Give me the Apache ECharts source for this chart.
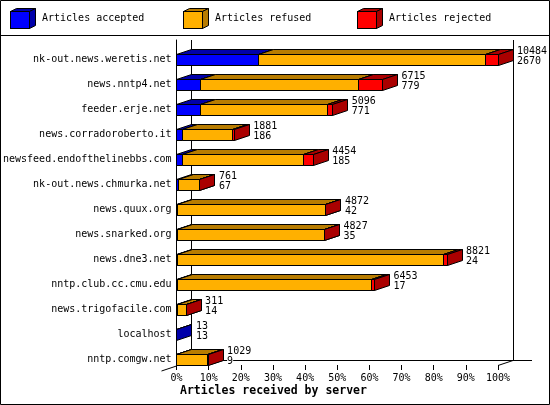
<!DOCTYPE html>
<html>
<head>
<meta charset="utf-8">
<script src="https://cdn.jsdelivr.net/npm/echarts@6/dist/echarts.min.js"></script>
<style>html,body{margin:0;padding:0;background:#fff;}#c{width:550px;height:405px;}</style>
</head>
<body>
<div id="c"></div>
<script>
// ---- data ----
const categories = [
  'nk-out.news.weretis.net', 'news.nntp4.net', 'feeder.erje.net', 'news.corradoroberto.it',
  'newsfeed.endofthelinebbs.com', 'nk-out.news.chmurka.net', 'news.quux.org', 'news.snarked.org',
  'news.dne3.net', 'nntp.club.cc.cmu.edu', 'news.trigofacile.com', 'localhost', 'nntp.comgw.net'
];
const totalArticles = [10484, 6715, 5096, 1881, 4454, 761, 4872, 4827, 8821, 6453, 311, 13, 1029];
const acceptedArticles = [2670, 779, 771, 186, 185, 67, 42, 35, 24, 17, 14, 13, 9];
const refusedArticles = [7414, 5166, 4165, 1635, 3969, 689, 4825, 4787, 8667, 6356, 294, 0, 1015];
const rejectedArticles = [400, 770, 160, 60, 300, 5, 5, 5, 130, 80, 3, 0, 5];
const seriesNames = ['Articles accepted', 'Articles refused', 'Articles rejected'];
const xTickLabels = ['0%', '10%', '20%', '30%', '40%', '50%', '60%', '70%', '80%', '90%', '100%'];

// ---- styling / layout ----
const FONT = '"DejaVu Sans Mono", "Liberation Mono", monospace';
const FRONT = ['#0000FF', '#FFB000', '#FF0000'];
const DARK = ['#0000AA', '#B87C00', '#AA0000'];
const DX = 15, DY = 5, BAR_H = 11;
const GL = 176.5, GR = 498, GT = 40, GB = 365, W = 550, H = 405;

const maxTotal = Math.max.apply(null, totalArticles);
const pct = v => v / maxTotal * 100;

function segData(k) {
  return categories.map((c, i) => {
    const parts = [acceptedArticles[i], refusedArticles[i], rejectedArticles[i]];
    let start = 0;
    for (let j = 0; j < k; j++) start += parts[j];
    return [pct(start), pct(start + parts[k]), i, parts[k]];
  });
}

const r5 = v => Math.round(v - 0.5) + 0.5;

function makeRender(k) {
  return function (params, api) {
    if (api.value(3) <= 0) return null;
    const cat = api.value(2);
    const p0 = api.coord([api.value(0), cat]);
    const p1 = api.coord([api.value(1), cat]);
    const band = api.size([0, 1])[1];
    const bottom = r5(p0[1] + band / 2);
    const top = bottom - BAR_H;
    const x0 = r5(p0[0]);
    const x1 = Math.max(r5(p1[0]), x0);
    const st = (fill) => ({ fill: fill, stroke: '#000', lineWidth: 1 });
    return {
      type: 'group',
      children: [
        { type: 'rect', shape: { x: x0, y: top, width: x1 - x0, height: BAR_H }, style: st(FRONT[k]) },
        { type: 'polygon', shape: { points: [[x0, top], [x0 + DX, top - DY], [x1 + DX, top - DY], [x1, top]] }, style: st(DARK[k]) },
        { type: 'polygon', shape: { points: [[x1, top], [x1 + DX, top - DY], [x1 + DX, top - DY + BAR_H], [x1, top + BAR_H]] }, style: st(DARK[k]) }
      ]
    };
  };
}

function labelRender(params, api) {
  const cat = api.value(1);
  const p = api.coord([api.value(0), cat]);
  const band = api.size([0, 1])[1];
  const bottom = r5(p[1] + band / 2);
  const top = bottom - BAR_H;
  const x = p[0] + DX + 4;
  const ts = (t, y) => ({ type: 'text', style: { text: t, x: x, y: y, fill: '#000', fontSize: 10, fontFamily: FONT, verticalAlign: 'middle', align: 'left', backgroundColor: '#fff' } });
  return { type: 'group', children: [ts(String(api.value(2)), top - 3.5), ts(String(api.value(3)), top + 6.5)] };
}

function cubeIcon(k) {
  const svg = '<svg xmlns="http://www.w3.org/2000/svg" width="27" height="21">' +
    '<rect x="0.5" y="3.5" width="19" height="17" fill="' + FRONT[k] + '" stroke="#000"/>' +
    '<polygon points="0.5,3.5 6.5,0.5 25.5,0.5 19.5,3.5" fill="' + DARK[k] + '" stroke="#000"/>' +
    '<polygon points="19.5,3.5 25.5,0.5 25.5,17.5 19.5,20.5" fill="' + DARK[k] + '" stroke="#000"/>' +
    '</svg>';
  return 'image://data:image/svg+xml;charset=utf-8,' + encodeURIComponent(svg);
}

const legendLeft = [10, 183, 357];
const legends = seriesNames.map((n, k) => ({
  data: [{ name: n, icon: cubeIcon(k) }],
  left: legendLeft[k], top: 8, padding: 0,
  itemWidth: 27, itemHeight: 21, itemGap: 0,
  selectedMode: false,
  textStyle: { fontFamily: FONT, fontSize: 10, color: '#000', padding: [3, 0, 0, 0] }
}));

const lineStyle = { stroke: '#000', lineWidth: 1 };
const graphics = [
  { type: 'rect', shape: { x: 0.5, y: 0.5, width: W - 1, height: H - 1 }, style: { fill: null, stroke: '#000', lineWidth: 1 }, z: -10 },
  { type: 'line', shape: { x1: 0, y1: 35.5, x2: W, y2: 35.5 }, style: lineStyle, z: -10 },
  // back plane
  { type: 'line', shape: { x1: GL + DX, y1: GT, x2: GL + DX, y2: GB - DY }, style: lineStyle, z: -10 },
  { type: 'line', shape: { x1: r5(GR + DX), y1: GT, x2: r5(GR + DX), y2: GB - DY }, style: lineStyle, z: -10 },
  { type: 'line', shape: { x1: GL + DX, y1: GB - DY + 0.5, x2: 532, y2: GB - DY + 0.5 }, style: lineStyle, z: -10 },
  // floor edges
  { type: 'line', shape: { x1: GL, y1: GB + 1, x2: GL - DX, y2: GB + 1 + DY }, style: lineStyle, z: -10 },
  { type: 'line', shape: { x1: GR, y1: GB + 0.5, x2: GR + DX, y2: GB + 0.5 - DY }, style: lineStyle, z: -10 }
];

const series = seriesNames.map((n, k) => ({
  name: n,
  type: 'custom',
  coordinateSystem: 'cartesian2d',
  itemStyle: { color: FRONT[k] },
  renderItem: makeRender(k),
  encode: { x: [0, 1], y: 2 },
  data: segData(k),
  clip: false,
  silent: true
}));
series.push({
  name: 'labels',
  type: 'custom',
  coordinateSystem: 'cartesian2d',
  renderItem: labelRender,
  encode: { x: 0, y: 1 },
  data: categories.map((c, i) => [pct(totalArticles[i]), i, totalArticles[i], acceptedArticles[i]]),
  clip: false,
  silent: true,
  z: 5
});

const chart = echarts.init(document.getElementById('c'), null, { renderer: 'canvas' });
chart.setOption({
  animation: false,
  backgroundColor: '#fff',
  legend: legends,
  title: {
    text: 'Articles received by server',
    left: 180, top: 385, padding: 0,
    textStyle: { fontFamily: FONT, fontWeight: 'bold', fontSize: 11.5, color: '#000' }
  },
  graphic: graphics,
  grid: { left: GL, right: W - GR, top: GT, bottom: H - GB, containLabel: false },
  xAxis: {
    type: 'value', min: 0, max: 100, interval: 10,
    axisLine: { show: false },
    axisTick: { show: true, length: 5, lineStyle: { color: '#000', width: 1 } },
    splitLine: { show: false },
    axisLabel: {
      margin: 8, color: '#000', fontFamily: FONT, fontSize: 10,
      formatter: (v) => xTickLabels[Math.round(v / 10)]
    }
  },
  yAxis: {
    type: 'category', inverse: true, data: categories,
    axisLine: { show: true, lineStyle: { color: '#000', width: 1 } },
    axisTick: { show: false },
    splitLine: { show: false },
    axisLabel: { margin: 5, color: '#000', fontFamily: FONT, fontSize: 10, verticalAlign: 'top', lineHeight: 13 }
  },
  series: series
});
</script>
</body>
</html>
